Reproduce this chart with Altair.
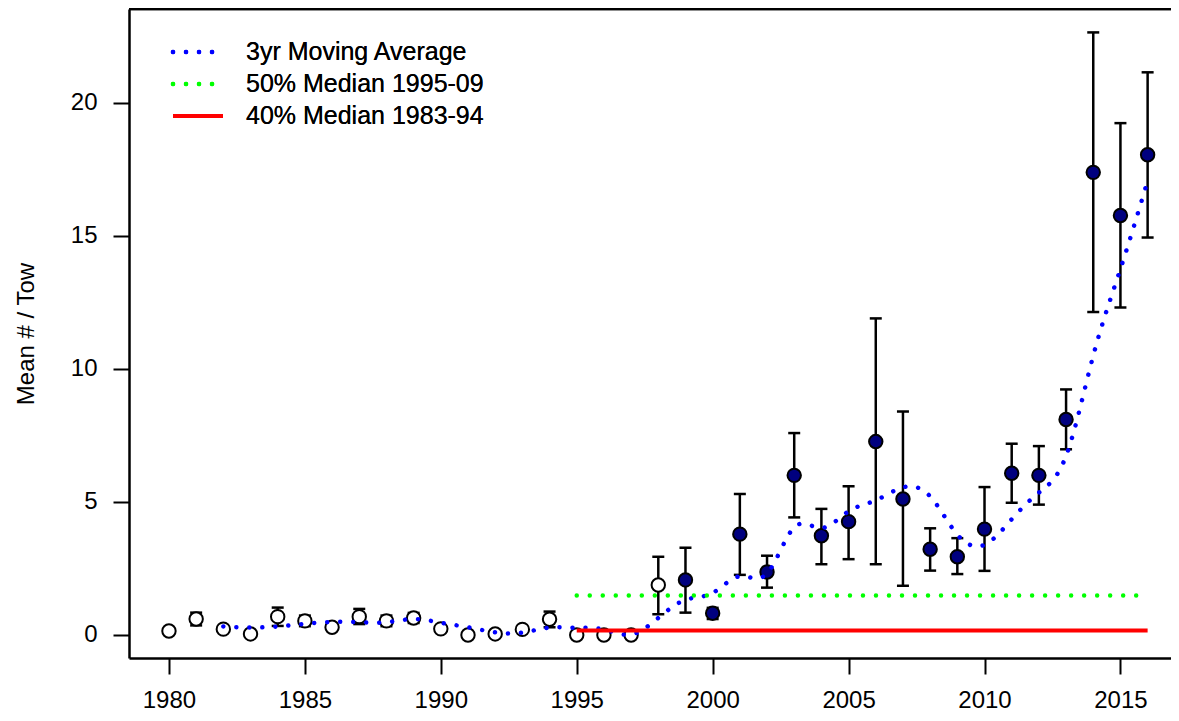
import altair as alt
import pandas as pd

# ---- data ----
years = list(range(1980, 2017))
mean_vals = [0.15, 0.60, 0.22, 0.04, 0.69, 0.53, 0.29, 0.69, 0.53, 0.64,
             0.23, 0.00, 0.04, 0.21, 0.59, 0.00, 0.00, 0.00, 1.88,
             2.07, 0.82, 3.79, 2.37, 6.00, 3.73, 4.26, 7.27, 5.11, 3.22,
             2.94, 3.98, 6.08, 6.00, 8.10, 17.39, 15.77, 18.05]
filled = ["open"] * 19 + ["filled"] * 18

err_years = [1981, 1984, 1985, 1987, 1988, 1989, 1994, 1998, 1999, 2000, 2001,
             2002, 2003, 2004, 2005, 2006, 2007, 2008, 2009, 2010, 2011, 2012,
             2013, 2014, 2015, 2016]
err_lo = [0.36, 0.34, 0.33, 0.41, 0.33, 0.45, 0.29, 0.78, 0.84, 0.60, 2.26,
          1.78, 4.42, 2.66, 2.85, 2.66, 1.85, 2.42, 2.29, 2.41, 4.97, 4.90,
          6.98, 12.14, 12.31, 14.94]
err_hi = [0.84, 1.03, 0.73, 0.98, 0.73, 0.83, 0.88, 2.94, 3.28, 1.02, 5.30,
          2.98, 7.59, 4.74, 5.59, 11.90, 8.40, 4.01, 3.64, 5.56, 7.19, 7.10,
          9.23, 22.65, 19.24, 21.15]

ma_years = list(range(1982, 2017))
ma_vals = [0.32, 0.28, 0.32, 0.42, 0.49, 0.48, 0.48, 0.60, 0.46, 0.29, 0.10,
           0.09, 0.28, 0.27, 0.21, 0.02, 0.64, 1.32, 1.58, 2.21, 2.31, 4.05,
           4.02, 4.65, 5.06, 5.55, 5.21, 3.77, 3.39, 4.35, 5.35, 6.73, 10.50,
           13.76, 17.07]

median_years = [1995, 2016]
median_50 = 1.48
median_40 = 0.17

legend_labels = ["3yr Moving Average", "50% Median 1995-09", "40% Median 1983-94"]

x_ticks = [1980, 1985, 1990, 1995, 2000, 2005, 2010, 2015]
y_ticks = [0, 5, 10, 15, 20]

# ---- tables ----
pts = pd.DataFrame({"year": years, "mean": mean_vals, "kind": filled})
err = pd.DataFrame({"year": err_years, "lo": err_lo, "hi": err_hi})
ma = pd.DataFrame({"year": ma_years, "ma": ma_vals})
med = pd.DataFrame({"year": median_years,
                    "m50": [median_50] * len(median_years),
                    "m40": [median_40] * len(median_years)})

W, H = 1042, 649
FONT = "Liberation Sans"

xs = alt.Scale(domain=[1978.53, 2016.86], nice=False, zero=False)
ys = alt.Scale(domain=[-0.865, 23.53], nice=False, zero=False)

xa = alt.Axis(values=x_ticks, format="d", title=None, grid=False,
              tickSize=16, tickWidth=2, tickColor="black",
              domainColor="black", domainWidth=2.5,
              labelFontSize=24, labelFont=FONT, labelColor="black",
              labelPadding=14, labelFlush=False, labelOverlap=False)
ya = alt.Axis(values=y_ticks, title="Mean # / Tow", grid=False,
              tickSize=16, tickWidth=2, tickColor="black",
              domainColor="black", domainWidth=2.5,
              labelFontSize=24, labelFont=FONT, labelColor="black",
              labelPadding=16, labelFlush=False, labelOverlap=False,
              titleFontSize=24, titleFont=FONT, titleFontWeight="normal",
              titleColor="black", titleX=-96, titleBaseline="alphabetic")

X = alt.X("year:Q", scale=xs, axis=xa)

bars = alt.Chart(err).mark_rule(color="black", strokeWidth=2.5).encode(
    x=X, y=alt.Y("lo:Q", scale=ys, axis=ya), y2="hi:Q")
cap_hi = alt.Chart(err).mark_rule(color="black", strokeWidth=2.5,
                                  xOffset=-6, x2Offset=6).encode(
    x=X, x2="year:Q", y=alt.Y("hi:Q", scale=ys, axis=ya))
cap_lo = alt.Chart(err).mark_rule(color="black", strokeWidth=2.5,
                                  xOffset=-6, x2Offset=6).encode(
    x=X, x2="year:Q", y=alt.Y("lo:Q", scale=ys, axis=ya))

points = alt.Chart(pts).mark_point(shape="circle", filled=True, size=180,
                                   stroke="black", strokeWidth=2,
                                   opacity=1).encode(
    x=X, y=alt.Y("mean:Q", scale=ys, axis=ya),
    fill=alt.Fill("kind:N", scale=alt.Scale(domain=["open", "filled"],
                                            range=["white", "#00007F"]),
                  legend=None))

ma_line = alt.Chart(ma).mark_line(interpolate="natural", color="#0000FF",
                                  strokeWidth=4.5, strokeDash=[0.01, 13],
                                  strokeCap="round").encode(
    x=X, y=alt.Y("ma:Q", scale=ys, axis=ya))

green = alt.Chart(med).mark_line(color="#00FF00", strokeWidth=4.5,
                                 strokeDash=[0.01, 13], strokeCap="round").encode(
    x=X, y=alt.Y("m50:Q", scale=ys, axis=ya))
red = alt.Chart(med).mark_line(color="#FF0000", strokeWidth=4).encode(
    x=X, y=alt.Y("m40:Q", scale=ys, axis=ya))

# legend (pixel positions inside the plot area)
lg_y = [43, 75, 107]
leg_blue = alt.Chart(med).mark_rule(color="#0000FF", strokeWidth=4.5,
                                    strokeDash=[0.01, 13], strokeCap="round").encode(
    x=alt.value(44), x2=alt.value(95), y=alt.value(lg_y[0]))
leg_green = alt.Chart(med).mark_rule(color="#00FF00", strokeWidth=4.5,
                                     strokeDash=[0.01, 13], strokeCap="round").encode(
    x=alt.value(44), x2=alt.value(95), y=alt.value(lg_y[1]))
leg_red = alt.Chart(med).mark_rule(color="#FF0000", strokeWidth=4).encode(
    x=alt.value(44), x2=alt.value(94), y=alt.value(lg_y[2]))
leg_text = [
    alt.Chart(med).mark_text(align="left", baseline="middle", fontSize=25,
                             font=FONT, color="black").encode(
        x=alt.value(117), y=alt.value(lg_y[i]), text=alt.value(legend_labels[i]))
    for i in range(3)
]

top_border = alt.Chart(med).mark_rule(color="black", strokeWidth=2.5).encode(
    x=alt.value(0), x2=alt.value(W), y=alt.value(0))

chart = alt.layer(
    bars, cap_hi, cap_lo, points, ma_line, green, red,
    leg_blue, leg_green, leg_red, *leg_text, top_border
).properties(
    width=W, height=H,
    autosize=alt.AutoSizeParams(type="none"),
    padding={"left": 121, "top": 1, "right": 0, "bottom": 61},
    background="white",
).configure_view(stroke=None)

chart.save("out.html", embed_options={"renderer": "svg", "actions": False})
